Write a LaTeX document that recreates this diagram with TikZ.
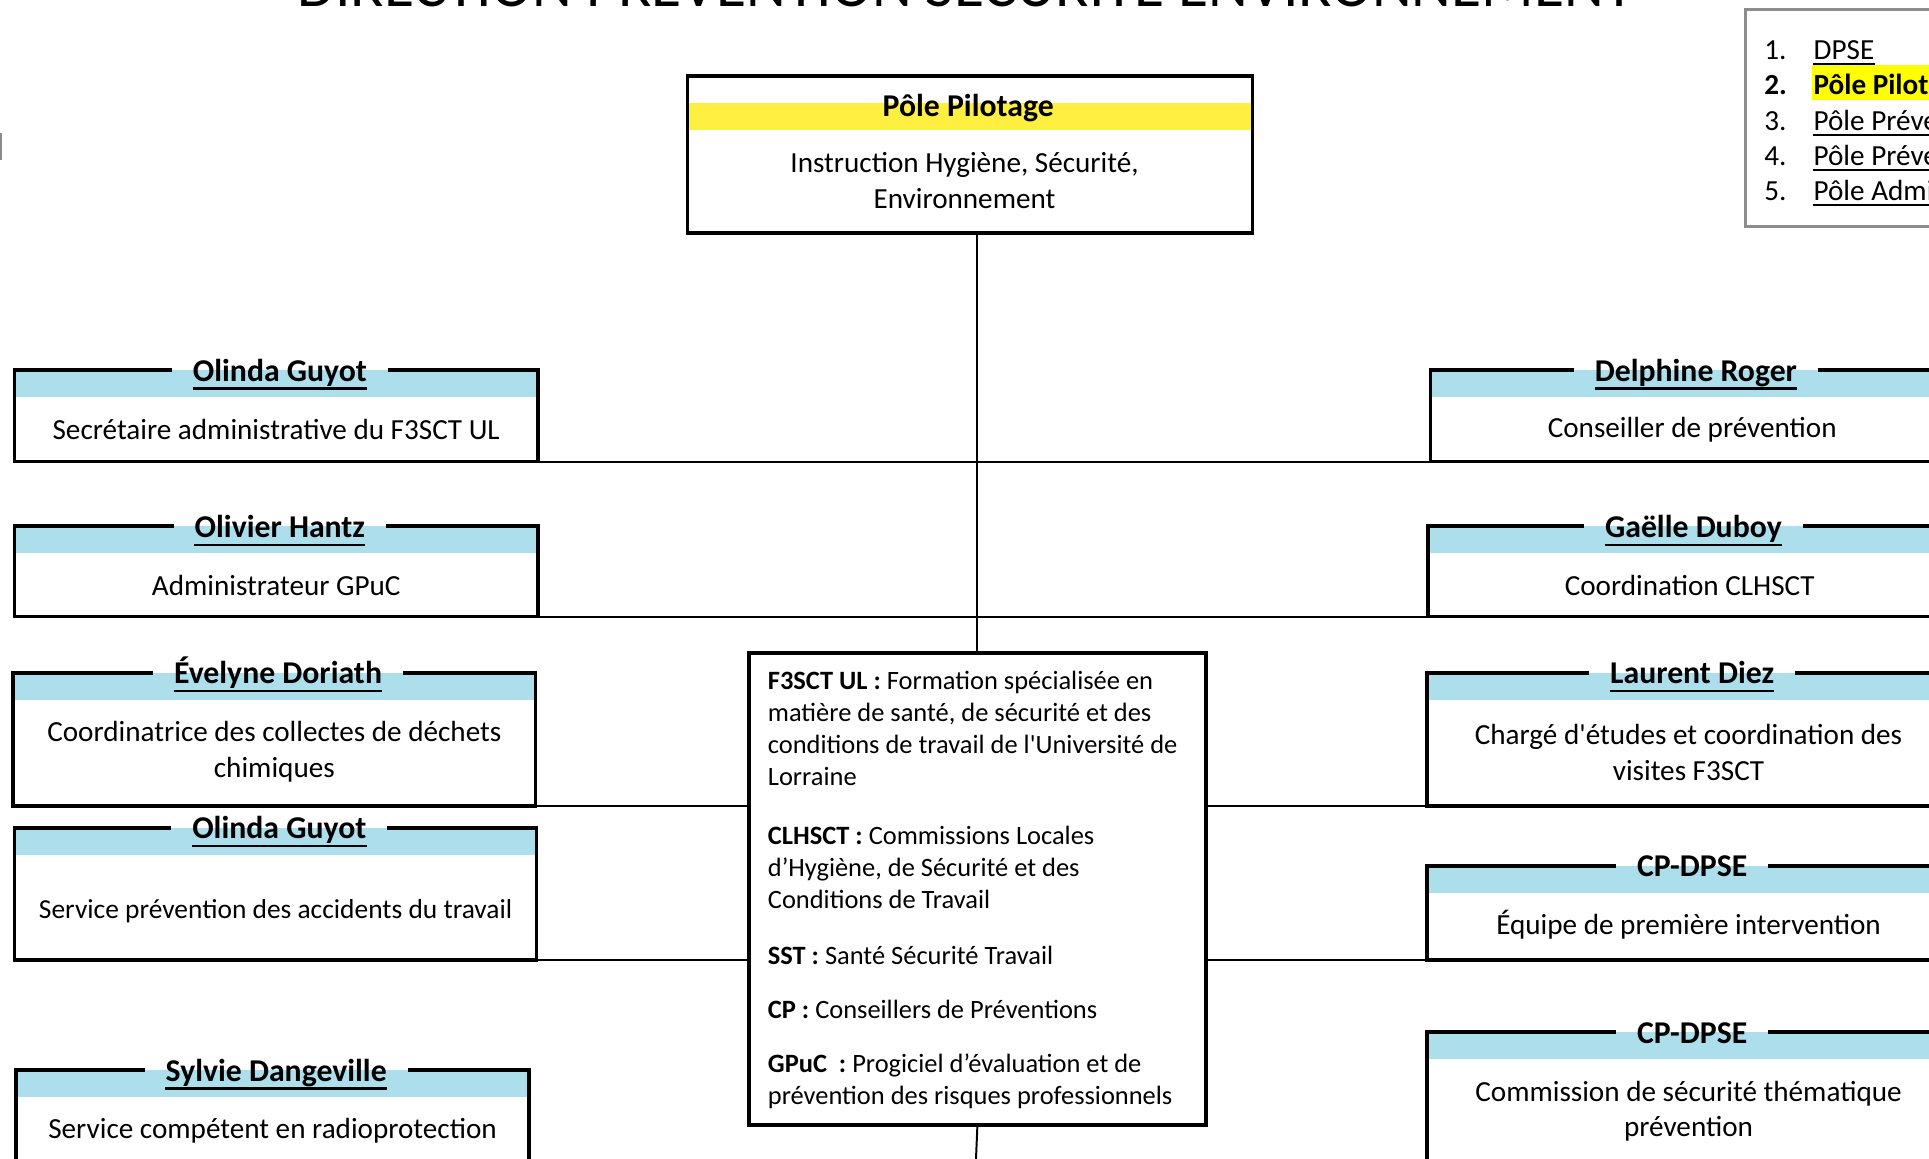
\documentclass[tikz,border=0pt]{standalone}
\usepackage{fontspec}
\setmainfont{Carlito}
\usetikzlibrary{fit,calc}
\definecolor{bandblue}{RGB}{173,222,236}
\definecolor{bandyellow}{RGB}{255,239,65}
\definecolor{hl}{RGB}{255,255,0}
\definecolor{legendgray}{RGB}{140,140,140}
\newcommand\bodyfnt{\fontsize{23.7}{29}\selectfont}
\newcommand\namefnt{\fontsize{25.8}{31}\selectfont\bfseries}
\newcommand\glossfnt{\fontsize{21.5}{26}\selectfont}
\tikzset{
  boxline/.style={line width=3pt},
  link/.style={line width=1.6pt},
  namelbl/.style={font=\namefnt, inner sep=0pt, anchor=base},
  bodylbl/.style={font=\bodyfnt, inner sep=0pt, align=center},
  frame/.style={inner sep=0pt},
}
% #1 id, #2 x1, #3 x2, #4 top, #5 bottom, #6 name, #7 u/n underline, #8 body, #9 body centre y
\newcommand\OrgBox[9]{%
  \coordinate (#1-nw) at (#2,#4);
  \coordinate (#1-se) at (#3,#5);
  \node[frame, fit=(#1-nw)(#1-se)] (#1) {};
  \fill[bandblue] (#1.north west) rectangle ($(#1.north east)+(0,22)$);
  \node[namelbl] (#1-name) at ($(#1.north)+(3,9)$) {#6};
  \if u#7\draw[line width=1.8pt] ($(#1-name.base west)+(0,6)$) -- ($(#1-name.base east)+(0,6)$);\fi
  \draw[boxline] ($(#1-name.west |- #1.north)+(-17,0)$) -- (#1.north west) -- (#1.south west)
     -- (#1.south east) -- (#1.north east) -- ($(#1-name.east |- #1.north)+(17,0)$);
  \node[bodylbl] (#1-body) at ($(#1.north)+(0,#9-#4)$) {#8};
}
\begin{document}
\begin{tikzpicture}[x=1pt,y=-1pt]
\useasboundingbox (0,0) rectangle (1568,942);
\clip (0,0) rectangle (1568,942);
\fill[white] (0,0) rectangle (1568,942);

% title (cut off at the top)
\node[font=\fontsize{50}{52}\selectfont, inner sep=0pt, anchor=base] (title) at (785,5)
  {DIRECTION PRÉVENTION SÉCURITÉ ENVIRONNEMENT};

% small grey mark at left edge
\draw[legendgray, line width=1.5pt] (0.5,108) -- (0.5,130);

% legend
\coordinate (lg-nw) at (1419,8);
\coordinate (lg-se) at (1620,184);
\node[frame, fit=(lg-nw)(lg-se)] (legend) {};
\fill[hl] (1473,53) rectangle (1620,81);
\draw[legendgray, line width=2pt] (legend.north east) -- (legend.north west) -- (legend.south west) -- (legend.south east);
\node[font=\bodyfnt, inner sep=0pt, anchor=base west] (n1) at (1434,48) {1.};
\node[font=\bodyfnt\bfseries, inner sep=0pt, anchor=base west] (n2) at (1434,77) {2.};
\node[font=\bodyfnt, inner sep=0pt, anchor=base west] (n3) at (1434,106) {3.};
\node[font=\bodyfnt, inner sep=0pt, anchor=base west] (n4) at (1434,134.5) {4.};
\node[font=\bodyfnt, inner sep=0pt, anchor=base west] (n5) at (1434,163) {5.};
\node[font=\bodyfnt, inner sep=0pt, anchor=base west] (i1) at (1474,48) {DPSE};
\node[font=\bodyfnt\bfseries, inner sep=0pt, anchor=base west] (i2) at (1474,77) {Pôle Pilotage};
\node[font=\bodyfnt, inner sep=0pt, anchor=base west] (i3) at (1474,106) {Pôle Prévention Sécurité};
\node[font=\bodyfnt, inner sep=0pt, anchor=base west] (i4) at (1474,134.5) {Pôle Prévention Environnement};
\node[font=\bodyfnt, inner sep=0pt, anchor=base west] (i5) at (1474,163) {Pôle Administratif};
\foreach \i in {i1,i3,i4,i5}{
  \draw[line width=1.6pt] ($(\i.base west)+(0,4)$) -- ($(\i.base east)+(0,4)$);
}

% Pole Pilotage
\coordinate (pp-nw) at (559,62);
\coordinate (pp-se) at (1018,189);
\node[frame, fit=(pp-nw)(pp-se)] (pp) {};
\fill[bandyellow] (559,84) rectangle (1018,106);
\draw[boxline] (pp.north west) rectangle (pp.south east);
\node[namelbl] (pp-name) at (787,95) {Pôle Pilotage};
\node[bodylbl] (pp-body) at (784,146.5) {Instruction Hygiène, Sécurité,\\Environnement};

% central glossary box
\coordinate (cb-nw) at (609,531);
\coordinate (cb-se) at (980,914);
\node[frame, fit=(cb-nw)(cb-se)] (cb) {};
\draw[boxline] (cb.north west) rectangle (cb.south east);
\node[font=\glossfnt, inner sep=0pt, align=left, anchor=north west] (gloss) at (624,545) {%
\textbf{F3SCT UL :} Formation spécialisée en\\
matière de santé, de sécurité et des\\
conditions de travail de l\textquotesingle Université de\\
Lorraine\\[22pt]
\textbf{CLHSCT :} Commissions Locales\\
d’Hygiène, de Sécurité et des\\
Conditions de Travail\\[20pt]
\textbf{SST :} Santé Sécurité Travail\\[18pt]
\textbf{CP :} Conseillers de Préventions\\[18pt]
\textbf{GPuC\ \ :} Progiciel d’évaluation et de\\
prévention des risques professionnels};

% left boxes
\OrgBox{L1}{12}{437}{301}{375}{Olinda Guyot}{u}{Secrétaire administrative du F3SCT UL}{349}
\OrgBox{L2}{12}{437}{428}{501}{Olivier Hantz}{u}{Administrateur GPuC}{476}
\OrgBox{L3}{11}{435}{547}{655}{Évelyne Doriath}{u}{Coordinatrice des collectes de déchets\\chimiques}{611.5}
\OrgBox{L4}{12}{436}{673}{780}{Olinda Guyot}{u}{\fontsize{22.3}{27}\selectfont Service prévention des accidents du travail}{741}
\OrgBox{L5}{13}{430}{870}{990}{Sylvie Dangeville}{u}{Service compétent en radioprotection}{919}

% right boxes
\OrgBox{R1}{1163}{1588}{301}{375}{Delphine Roger}{u}{Conseiller de prévention}{349.5}
\OrgBox{R2}{1161}{1586}{428}{501}{Gaëlle Duboy}{u}{Coordination CLHSCT}{476}
\OrgBox{R3}{1160}{1585}{547}{655}{Laurent Diez}{u}{Chargé d\textquotesingle études et coordination des\\visites F3SCT}{612}
\OrgBox{R4}{1160}{1585}{704}{780}{CP-DPSE}{n}{Équipe de première intervention}{752}
\OrgBox{R5}{1160}{1585}{839}{990}{CP-DPSE}{n}{Commission de sécurité thématique\\prévention}{903.5}

% connectors
\coordinate (bottomend) at (793,950);
\draw[link] (cb.north |- pp.south) -- (cb.north);
\draw[link] (cb.south) -- (bottomend);
\draw[link] (L1.south east) -- (R1.south west);
\draw[link] (L2.south east) -- (R2.south west);
\draw[link] (L3.south east) -- (L3.south east -| cb.west);
\draw[link] (L4.south east) -- (L4.south east -| cb.west);
\draw[link] (R3.south west -| cb.east) -- (R3.south west);
\draw[link] (R4.south west -| cb.east) -- (R4.south west);
\end{tikzpicture}
\end{document}
